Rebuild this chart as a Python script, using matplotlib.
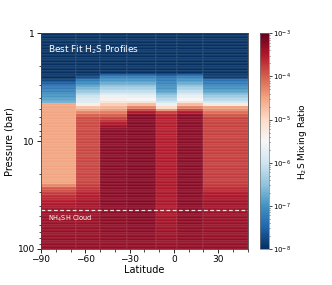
import numpy as np
import matplotlib
matplotlib.use("Agg")
import matplotlib.pyplot as plt
from matplotlib.colors import LogNorm

# latitude bin edges of the retrieved columns
lat_edges = [-90, -66, -50, -32, -12, 2, 20, 50]

# profile knots per column: pressure (bar) and log10 H2S mixing ratio
p_knots = [
    [1, 2.6, 3.0, 4.45, 4.6, 25, 27, 33, 44, 100],
    [1, 2.5, 2.7, 3.3, 4.0, 4.5, 4.7, 6.0, 25, 32, 44, 100],
    [1, 2.35, 2.5, 3.1, 3.6, 4.0, 4.9, 6.1, 7.6, 44, 100],
    [1, 2.35, 2.5, 3.1, 3.6, 4.2, 4.6, 5.15, 5.75, 44, 100],
    [1, 2.35, 2.6, 3.4, 4.2, 4.5, 5.0, 5.6, 44, 100],
    [1, 2.35, 2.5, 3.1, 3.6, 4.2, 4.6, 5.15, 5.75, 44, 100],
    [1, 2.55, 2.7, 3.4, 4.3, 4.5, 4.7, 6.0, 25, 32, 44, 100],
]
q_knots = [
    [-8, -8, -7.4, -6.7, -4.5, -4.5, -4.0, -3.6, -3.35, -3.3],
    [-8, -8, -7.3, -6.6, -5.9, -5.8, -4.9, -3.85, -3.8, -3.5, -3.35, -3.3],
    [-8, -8, -7.3, -6.5, -5.95, -5.5, -4.6, -3.8, -3.25, -3.25, -3.3],
    [-8, -8, -7.3, -6.5, -5.95, -5.4, -4.7, -3.8, -3.2, -3.2, -3.3],
    [-8, -8, -7.3, -6.9, -6.1, -5.9, -4.7, -3.55, -3.45, -3.3],
    [-8, -8, -7.3, -6.5, -5.95, -5.4, -4.7, -3.8, -3.25, -3.25, -3.3],
    [-8, -8, -7.4, -6.9, -6.0, -5.9, -4.6, -3.8, -3.75, -3.45, -3.35, -3.3],
]
cloud_p = 44

# model pressure grid
p_edges = np.logspace(0, 2, 81)
p_mid = np.sqrt(p_edges[:-1] * p_edges[1:])

grid = np.zeros((len(p_mid), len(lat_edges) - 1))
for i in range(len(p_knots)):
    grid[:, i] = 10 ** np.interp(np.log10(p_mid), np.log10(p_knots[i]), q_knots[i])

fig = plt.figure(figsize=(3.32, 2.85), dpi=100)
ax = fig.add_axes([0.1235, 0.127, 0.622, 0.756])
cax = fig.add_axes([0.783, 0.127, 0.028, 0.756])

mesh = ax.pcolormesh(lat_edges, p_edges, grid, cmap="RdBu_r",
                     norm=LogNorm(1e-8, 1e-3), edgecolors=(1, 1, 1, 0.06),
                     linewidth=0.3)
ax.set_yscale("log")
ax.set_ylim(100, 1)
ax.set_xlim(-90, 50)
ax.set_yticks([1, 10, 100])
ax.set_yticklabels(["1", "10", "100"])
ax.set_xticks([-90, -60, -30, 0, 30])
ax.set_xticks(np.arange(-90, 51, 10), minor=True)
ax.tick_params(labelsize=6.5, length=3, width=0.6, pad=1.5)
ax.tick_params(which="minor", length=1.8, width=0.5)
for s in ax.spines.values():
    s.set_linewidth(0.6)
    s.set_color("#444444")
ax.set_xlabel("Latitude", fontsize=7, labelpad=1)
ax.set_ylabel("Pressure (bar)", fontsize=7, labelpad=2)

ax.axhline(cloud_p, color="white", ls="--", lw=0.9, alpha=0.85, dashes=(3, 2))
ax.text(-85, 53, "NH$_4$SH Cloud", color="white", fontsize=4.8, va="center")
ax.text(-85, 1.42, "Best Fit H$_2$S Profiles", color="white", fontsize=6.5,
        va="center")

cb = fig.colorbar(mesh, cax=cax)
cb.set_ticks([1e-8, 1e-7, 1e-6, 1e-5, 1e-4, 1e-3])
cb.ax.tick_params(labelsize=5, length=2, width=0.5, pad=1)
cb.ax.tick_params(which="minor", length=1, width=0.4)
cb.outline.set_linewidth(0.5)
cb.outline.set_edgecolor("#777777")
cb.set_label("H$_2$S Mixing Ratio", fontsize=6.5, labelpad=3)

fig.savefig("out.png", dpi=100)
